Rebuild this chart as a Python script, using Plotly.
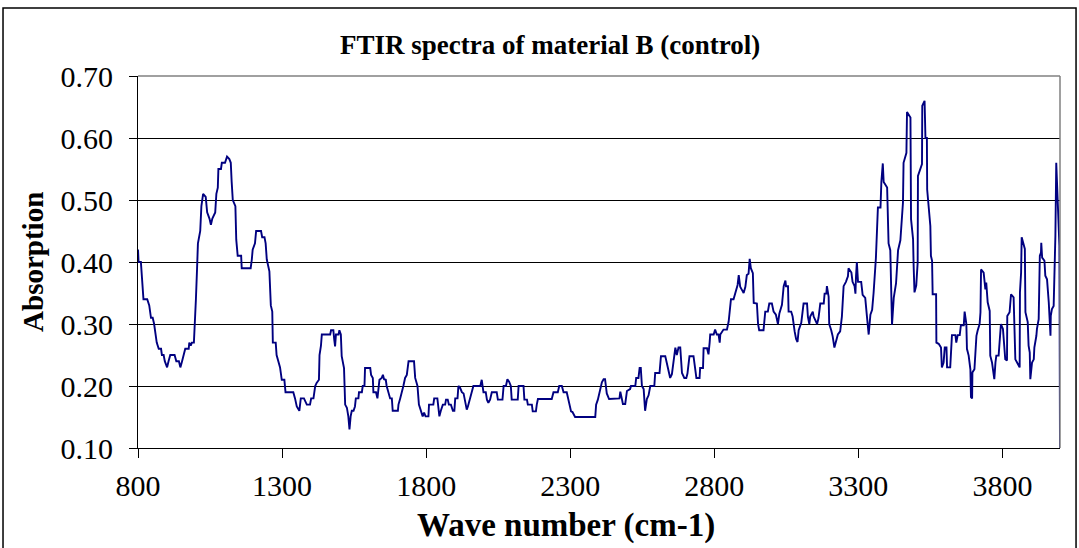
import plotly.graph_objects as go

# FTIR spectrum of material B (control): wavenumber (cm-1) vs absorption
wavenumber = [
    800, 802, 810, 814, 819, 832, 839, 845, 851, 856, 860, 865, 872, 880, 883, 889, 893, 901, 906, 912,
    927, 933, 942, 947, 953, 959, 964, 976, 978, 983, 987, 994, 998, 1001, 1005, 1008, 1016, 1020, 1026, 1035,
    1040, 1048, 1053, 1058, 1068, 1072, 1077, 1079, 1088, 1091, 1102, 1109, 1117, 1122, 1125, 1129, 1138, 1141, 1146, 1158,
    1160, 1191, 1195, 1198, 1206, 1210, 1227, 1231, 1239, 1243, 1247, 1256, 1261, 1266, 1268, 1278, 1281, 1293, 1299, 1308,
    1312, 1339, 1345, 1351, 1360, 1365, 1376, 1386, 1397, 1401, 1409, 1415, 1420, 1428, 1430, 1435, 1438, 1467, 1470, 1478,
    1481, 1484, 1487, 1496, 1499, 1504, 1507, 1515, 1519, 1525, 1530, 1534, 1538, 1542, 1548, 1553, 1556, 1565, 1567, 1577,
    1580, 1586, 1588, 1606, 1609, 1615, 1617, 1626, 1631, 1634, 1638, 1646, 1650, 1654, 1660, 1663, 1669, 1675, 1681, 1684,
    1702, 1704, 1710, 1716, 1721, 1727, 1733, 1739, 1758, 1762, 1770, 1775, 1782, 1788, 1793, 1798, 1808, 1810, 1825, 1828,
    1839, 1843, 1846, 1851, 1858, 1866, 1869, 1875, 1879, 1886, 1893, 1898, 1901, 1909, 1912, 1918, 1924, 1930, 1935, 1941,
    1945, 1949, 1953, 1959, 1964, 1988, 1993, 1999, 2007, 2011, 2016, 2022, 2028, 2045, 2049, 2065, 2069, 2077, 2082, 2088,
    2094, 2097, 2118, 2121, 2138, 2141, 2150, 2153, 2167, 2170, 2181, 2184, 2188, 2236, 2242, 2257, 2262, 2271, 2277, 2288,
    2294, 2300, 2303, 2308, 2317, 2387, 2390, 2396, 2402, 2410, 2416, 2421, 2427, 2435, 2471, 2474, 2479, 2483, 2491, 2497,
    2508, 2511, 2526, 2529, 2537, 2541, 2545, 2549, 2555, 2560, 2566, 2572, 2578, 2592, 2595, 2610, 2615, 2630, 2633, 2641,
    2647, 2653, 2659, 2665, 2670, 2676, 2682, 2684, 2688, 2696, 2703, 2707, 2714, 2728, 2734, 2738, 2749, 2751, 2761, 2763,
    2775, 2780, 2784, 2786, 2798, 2803, 2809, 2815, 2819, 2821, 2832, 2844, 2850, 2853, 2858, 2867, 2873, 2881, 2885, 2890,
    2896, 2902, 2908, 2913, 2919, 2923, 2927, 2934, 2937, 2948, 2952, 2956, 2971, 2974, 2977, 2986, 2991, 3000, 3006, 3014,
    3021, 3026, 3035, 3041, 3047, 3049, 3056, 3058, 3067, 3072, 3075, 3079, 3084, 3089, 3093, 3102, 3110, 3122, 3125, 3130,
    3133, 3142, 3145, 3151, 3157, 3162, 3168, 3180, 3183, 3189, 3191, 3197, 3199, 3206, 3211, 3217, 3222, 3229, 3237, 3243,
    3249, 3257, 3264, 3266, 3276, 3280, 3287, 3290, 3292, 3295, 3299, 3310, 3315, 3324, 3330, 3334, 3336, 3342, 3348, 3353,
    3361, 3368, 3377, 3380, 3385, 3388, 3400, 3405, 3411, 3417, 3423, 3431, 3438, 3446, 3452, 3455, 3457, 3467, 3469, 3481,
    3483, 3490, 3492, 3495, 3501, 3506, 3507, 3521, 3522, 3530, 3533, 3538, 3539, 3544, 3550, 3552, 3556, 3558, 3570, 3571,
    3579, 3587, 3590, 3596, 3600, 3606, 3608, 3619, 3625, 3637, 3640, 3645, 3652, 3656, 3666, 3669, 3675, 3677, 3683, 3689,
    3691, 3695, 3696, 3703, 3710, 3714, 3721, 3724, 3726, 3735, 3741, 3744, 3749, 3756, 3758, 3764, 3772, 3776, 3779, 3787,
    3791, 3795, 3802, 3807, 3810, 3816, 3817, 3825, 3830, 3839, 3842, 3845, 3851, 3860, 3861, 3865, 3867, 3878, 3880, 3888,
    3891, 3895, 3897, 3903, 3909, 3911, 3918, 3920, 3926, 3930, 3934, 3935, 3938, 3946, 3949, 3955, 3961, 3964, 3967, 3968,
    3972, 3978, 3981, 3984, 3987, 3992, 3998, 4000,
]
absorption = [
    0.42, 0.40, 0.40, 0.37, 0.34, 0.34, 0.33, 0.31, 0.31, 0.30, 0.285, 0.27, 0.26, 0.26, 0.25, 0.25, 0.24, 0.23, 0.24, 0.25,
    0.25, 0.24, 0.24, 0.23, 0.24, 0.25, 0.26, 0.26, 0.27, 0.265, 0.27, 0.27, 0.30, 0.34, 0.39, 0.43, 0.45, 0.49, 0.51, 0.505,
    0.48, 0.47, 0.46, 0.47, 0.48, 0.51, 0.52, 0.55, 0.55, 0.56, 0.56, 0.57, 0.566, 0.56, 0.53, 0.50, 0.49, 0.436, 0.41, 0.41,
    0.39, 0.39, 0.404, 0.42, 0.43, 0.45, 0.45, 0.44, 0.44, 0.43, 0.404, 0.385, 0.33, 0.32, 0.27, 0.27, 0.25, 0.23, 0.21, 0.21,
    0.19, 0.19, 0.18, 0.167, 0.16, 0.18, 0.18, 0.17, 0.17, 0.18, 0.18, 0.20, 0.205, 0.21, 0.25, 0.265, 0.283, 0.283, 0.29, 0.29,
    0.275, 0.264, 0.283, 0.283, 0.29, 0.283, 0.248, 0.229, 0.17, 0.165, 0.151, 0.13, 0.151, 0.16, 0.16, 0.167, 0.18, 0.18, 0.19, 0.19,
    0.20, 0.20, 0.229, 0.229, 0.218, 0.213, 0.19, 0.19, 0.18, 0.19, 0.21, 0.213, 0.218, 0.211, 0.21, 0.20, 0.19, 0.18, 0.18, 0.16,
    0.16, 0.17, 0.18, 0.19, 0.20, 0.213, 0.218, 0.24, 0.24, 0.213, 0.20, 0.17, 0.16, 0.151, 0.157, 0.151, 0.151, 0.17, 0.17, 0.18,
    0.18, 0.16, 0.151, 0.16, 0.17, 0.17, 0.178, 0.178, 0.17, 0.17, 0.16, 0.16, 0.18, 0.18, 0.20, 0.197, 0.19, 0.188, 0.175, 0.162,
    0.167, 0.175, 0.178, 0.19, 0.20, 0.20, 0.21, 0.19, 0.19, 0.178, 0.173, 0.178, 0.19, 0.19, 0.178, 0.178, 0.20, 0.20, 0.211, 0.207,
    0.20, 0.178, 0.178, 0.20, 0.20, 0.178, 0.178, 0.17, 0.17, 0.159, 0.159, 0.17, 0.179, 0.179, 0.19, 0.19, 0.20, 0.20, 0.19, 0.19,
    0.178, 0.17, 0.159, 0.158, 0.15, 0.15, 0.17, 0.178, 0.19, 0.206, 0.211, 0.211, 0.188, 0.179, 0.18, 0.191, 0.18, 0.171, 0.171, 0.192,
    0.195, 0.20, 0.20, 0.213, 0.213, 0.229, 0.229, 0.20, 0.195, 0.16, 0.179, 0.185, 0.20, 0.20, 0.221, 0.221, 0.248, 0.248, 0.242, 0.227,
    0.213, 0.219, 0.242, 0.262, 0.25, 0.262, 0.262, 0.248, 0.221, 0.213, 0.213, 0.22, 0.248, 0.248, 0.227, 0.213, 0.213, 0.229, 0.229, 0.261,
    0.261, 0.251, 0.27, 0.283, 0.283, 0.291, 0.283, 0.283, 0.27, 0.283, 0.291, 0.291, 0.304, 0.323, 0.34, 0.34, 0.352, 0.363, 0.379, 0.36,
    0.355, 0.35, 0.36, 0.379, 0.381, 0.405, 0.39, 0.382, 0.334, 0.333, 0.30, 0.29, 0.29, 0.312, 0.32, 0.32, 0.333, 0.333, 0.32, 0.315,
    0.30, 0.317, 0.331, 0.361, 0.37, 0.361, 0.361, 0.32, 0.32, 0.312, 0.30, 0.288, 0.276, 0.271, 0.29, 0.302, 0.333, 0.333, 0.312, 0.30,
    0.312, 0.32, 0.312, 0.307, 0.30, 0.31, 0.333, 0.333, 0.349, 0.349, 0.361, 0.344, 0.30, 0.29, 0.28, 0.262, 0.271, 0.283, 0.288, 0.312,
    0.361, 0.368, 0.377, 0.39, 0.383, 0.368, 0.361, 0.349, 0.377, 0.40, 0.368, 0.368, 0.347, 0.342, 0.312, 0.286, 0.283, 0.315, 0.323, 0.35,
    0.406, 0.488, 0.488, 0.529, 0.559, 0.529, 0.52, 0.43, 0.419, 0.299, 0.342, 0.366, 0.419, 0.435, 0.475, 0.496, 0.56, 0.576, 0.642, 0.633,
    0.469, 0.437, 0.394, 0.351, 0.362, 0.399, 0.539, 0.558, 0.652, 0.66, 0.60, 0.60, 0.517, 0.491, 0.458, 0.41, 0.402, 0.348, 0.348, 0.27,
    0.268, 0.262, 0.23, 0.238, 0.262, 0.262, 0.23, 0.23, 0.282, 0.282, 0.27, 0.282, 0.282, 0.298, 0.298, 0.32, 0.30, 0.26, 0.249, 0.227,
    0.182, 0.18, 0.222, 0.227, 0.281, 0.289, 0.30, 0.319, 0.388, 0.383, 0.356, 0.367, 0.335, 0.321, 0.249, 0.238, 0.211, 0.238, 0.249, 0.249,
    0.27, 0.30, 0.292, 0.26, 0.243, 0.241, 0.313, 0.319, 0.348, 0.343, 0.286, 0.243, 0.238, 0.23, 0.351, 0.383, 0.44, 0.421, 0.319, 0.303,
    0.265, 0.254, 0.211, 0.238, 0.243, 0.262, 0.281, 0.292, 0.308, 0.41, 0.415, 0.431, 0.407, 0.402, 0.378, 0.372, 0.335, 0.313, 0.281, 0.313,
    0.324, 0.329, 0.378, 0.442, 0.56, 0.496, 0.426, 0.10,
]

x_ticks = [800, 1300, 1800, 2300, 2800, 3300, 3800]
y_ticks = [0.10, 0.20, 0.30, 0.40, 0.50, 0.60, 0.70]

title_text = "FTIR spectra of material B (control)"
x_title = "Wave number (cm-1)"
y_title = "Absorption"

SERIF = "Liberation Serif, Times New Roman, serif"

fig = go.Figure()
fig.add_trace(go.Scatter(
    x=wavenumber, y=absorption, mode="lines",
    line=dict(color="#000080", width=1.9),
    showlegend=False, hoverinfo="x+y",
))

fig.update_layout(
    width=1079, height=548,
    margin=dict(l=138, r=19, t=76, b=100),
    paper_bgcolor="white", plot_bgcolor="white",
    font=dict(family=SERIF, color="black"),
    xaxis=dict(
        range=[800, 4000], tickvals=x_ticks, ticktext=[str(v) for v in x_ticks],
        showgrid=False, zeroline=False,
        showline=True, linecolor="black", linewidth=1,
        ticks="outside", ticklen=9, tickcolor="black", tickwidth=1,
        tickfont=dict(family=SERIF, size=30), ticklabelstandoff=2,
    ),
    yaxis=dict(
        range=[0.10, 0.70], tickvals=y_ticks, ticktext=[f"{v:.2f}" for v in y_ticks],
        showgrid=True, gridcolor="black", gridwidth=1, zeroline=False,
        showline=True, linecolor="black", linewidth=1,
        ticks="outside", ticklen=8, tickcolor="black", tickwidth=1,
        tickfont=dict(family=SERIF, size=30), ticklabelstandoff=10,
    ),
    annotations=[
        dict(text=f"<b>{title_text}</b>", xref="paper", yref="paper",
             x=0.447, y=1.083, xanchor="center", yanchor="middle", showarrow=False,
             font=dict(family=SERIF, size=27)),
        dict(text=f"<b>{x_title}</b>", xref="paper", yref="paper",
             x=0.464, y=-0.207, xanchor="center", yanchor="middle", showarrow=False,
             font=dict(family=SERIF, size=33)),
        dict(text=f"<b>{y_title}</b>", xref="paper", yref="paper",
             x=-0.114, y=0.5, xanchor="center", yanchor="middle", showarrow=False,
             textangle=-90, font=dict(family=SERIF, size=29)),
    ],
    shapes=[
        # plot-area frame: grey top and right edges
        dict(type="line", xref="paper", yref="paper", x0=0, x1=1, y0=1, y1=1,
             line=dict(color="#808080", width=1.5)),
        dict(type="line", xref="paper", yref="paper", x0=1, x1=1, y0=0, y1=1,
             line=dict(color="#808080", width=1.5)),
        # outer chart border
        dict(type="rect", xref="paper", yref="paper",
             x0=-0.1464, x1=1.0174, y0=-0.31, y1=1.1828,
             line=dict(color="black", width=1.5), fillcolor="rgba(0,0,0,0)"),
    ],
)

fig.write_html("out.html")
